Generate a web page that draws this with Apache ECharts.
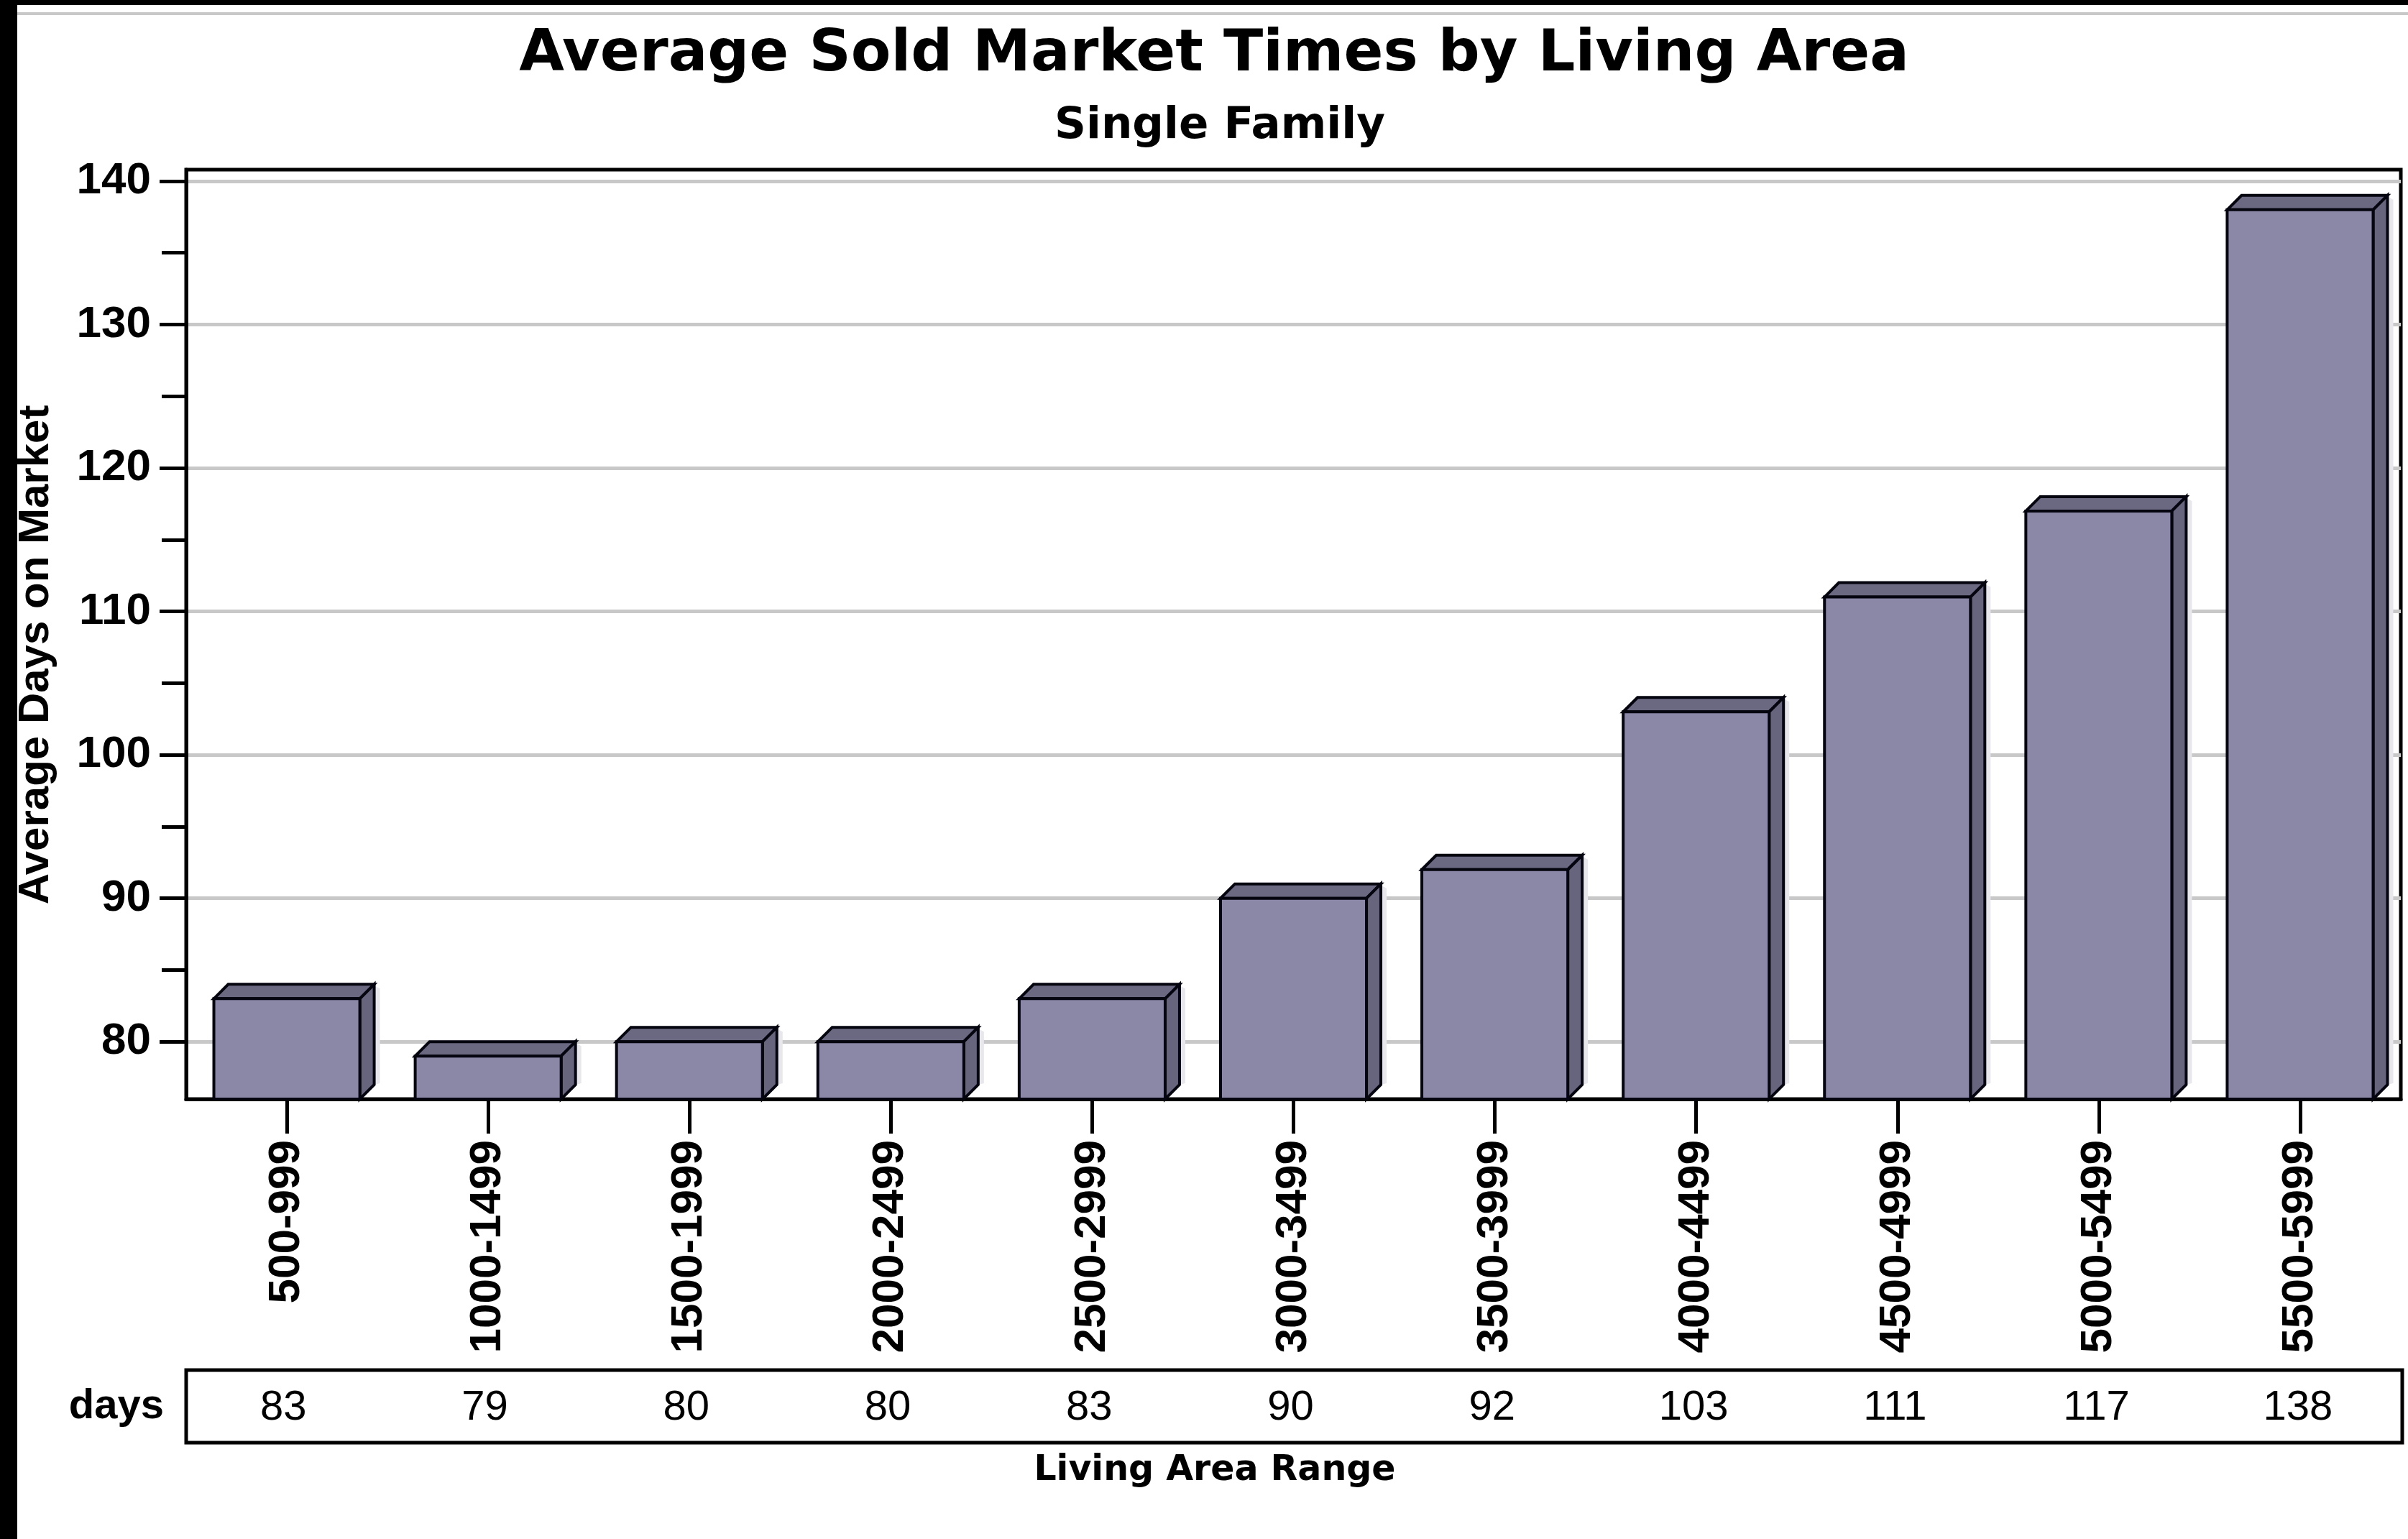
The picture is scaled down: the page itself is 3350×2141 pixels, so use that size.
<!DOCTYPE html>
<html>
<head>
<meta charset="utf-8">
<script src="https://cdn.jsdelivr.net/npm/echarts@6/dist/echarts.min.js"></script>
<style>
  html, body { margin: 0; padding: 0; background: #ffffff; }
  #chart { width: 3350px; height: 2141px; }
</style>
</head>
<body>
<div id="chart"></div>
<script>
// Living-area buckets and the average days on market for each
const categories = ['500-999', '1000-1499', '1500-1999', '2000-2499', '2500-2999', '3000-3499',
                    '3500-3999', '4000-4499', '4500-4999', '5000-5499', '5500-5999'];
const days = [83, 79, 80, 80, 83, 90, 92, 103, 111, 117, 138];

// Value-axis tick marks (labelled majors, unlabelled minors)
const majorTicks = [80, 90, 100, 110, 120, 130, 140];
const minorTicks = [85, 95, 105, 115, 125, 135];
const yMin = 76;
const yMax = 140.8;

const titleText = 'Average Sold Market Times by Living Area';
const subtitleText = 'Single Family';
const yAxisTitle = 'Average Days on Market';
const xAxisTitle = 'Living Area Range';
const tableRowLabel = 'days';

// Styling
const FRONT = '#8a87a7';
const TOP = '#6b6981';
const SIDE = '#67657d';
const OUTLINE = '#05050f';
const DEPTH = 20;
const BAR_RATIO = 0.725;
const LABEL_FONT = 'Liberation Sans';
const TITLE_FONT = 'DejaVu Sans';

const chart = echarts.init(document.getElementById('chart'), null, { renderer: 'canvas' });

// Extruded (pseudo 3-D) bar: front face, top face, side face
function renderBar(params, api) {
  const i = api.value(0);
  const v = api.value(1);
  const topPt = api.coord([i, v]);
  const basePt = api.coord([i, yMin]);
  const w = api.size([1, 0])[0] * BAR_RATIO;
  const l = topPt[0] - w / 2;
  const r = topPt[0] + w / 2;
  const t = topPt[1];
  const b = basePt[1];
  const d = DEPTH;
  const edge = { stroke: OUTLINE, lineWidth: 4, lineJoin: 'miter' };
  return {
    type: 'group',
    children: [
      { type: 'polygon', shape: { points: [[r + d, t - d + 2], [r + d + 8, t - d + 6], [r + d + 8, b - d - 2], [r + d, b - d]] },
        style: { fill: '#e7e7ec' } },
      { type: 'polygon', shape: { points: [[l, t], [l + d, t - d], [r + d, t - d], [r, t]] },
        style: Object.assign({ fill: TOP }, edge) },
      { type: 'polygon', shape: { points: [[r, t], [r + d, t - d], [r + d, b - d], [r, b]] },
        style: Object.assign({ fill: SIDE }, edge) },
      { type: 'rect', shape: { x: l, y: t, width: w, height: b - t },
        style: Object.assign({ fill: FRONT }, edge) }
    ]
  };
}

// Values printed in the table row under the axis
function renderCell(params, api) {
  const i = api.value(0);
  const p = api.coord([i, 0.5]);
  return {
    type: 'text',
    x: p[0] - 5,
    y: p[1] + 2,
    style: {
      text: String(days[i]),
      fill: '#000',
      font: '58px "' + LABEL_FONT + '"',
      align: 'center',
      verticalAlign: 'middle'
    }
  };
}

const axisBlack = { color: '#000', width: 5 };

const option = {
  backgroundColor: '#ffffff',
  animation: false,
  grid: [
    { left: 259, right: 10, top: 236, bottom: 612, show: true, borderColor: '#000', borderWidth: 5,
      backgroundColor: 'transparent', outerBoundsMode: 'none' },
    { left: 259, right: 8, top: 1906, height: 101, show: true, borderColor: '#000', borderWidth: 5,
      backgroundColor: 'transparent', outerBoundsMode: 'none' }
  ],
  xAxis: [
    {
      gridIndex: 0, type: 'category', data: categories, boundaryGap: true,
      axisLine: { show: true, lineStyle: axisBlack },
      axisTick: { show: true, alignWithLabel: true, length: 48, lineStyle: axisBlack },
      axisLabel: { interval: 0, rotate: 90, margin: 57, color: '#000',
                   fontFamily: LABEL_FONT, fontWeight: 'bold', fontSize: 62 },
      splitLine: { show: false }
    },
    {
      gridIndex: 1, type: 'category', data: categories, boundaryGap: true,
      axisLine: { show: false }, axisTick: { show: false }, axisLabel: { show: false },
      splitLine: { show: false }
    }
  ],
  yAxis: [
    {
      gridIndex: 0, type: 'value', min: yMin, max: yMax, position: 'left',
      axisLine: { show: true, lineStyle: axisBlack },
      axisTick: { show: true, length: 37, lineStyle: axisBlack, customValues: majorTicks },
      axisLabel: { customValues: majorTicks, margin: 49, color: '#000',
                   fontFamily: LABEL_FONT, fontWeight: 'bold', fontSize: 62 },
      splitLine: { show: true, lineStyle: { color: '#c8c8c8', width: 5 } }
    },
    {
      gridIndex: 0, type: 'value', min: yMin, max: yMax, position: 'left',
      axisLine: { show: false },
      axisTick: { show: true, length: 34, lineStyle: axisBlack, customValues: minorTicks },
      axisLabel: { show: false },
      splitLine: { show: false }
    },
    {
      gridIndex: 1, type: 'value', min: 0, max: 1, position: 'left',
      axisLine: { show: false }, axisTick: { show: false }, axisLabel: { show: false },
      splitLine: { show: false },
      name: tableRowLabel, nameLocation: 'middle', nameRotate: 0, nameGap: 31,
      nameTextStyle: { color: '#000', fontFamily: LABEL_FONT, fontWeight: 'bold', fontSize: 58 }
    }
  ],
  series: [
    {
      type: 'custom', xAxisIndex: 0, yAxisIndex: 0,
      renderItem: renderBar,
      data: categories.map((c, i) => [i, days[i]]),
      z: 3
    },
    {
      type: 'custom', xAxisIndex: 1, yAxisIndex: 2,
      renderItem: renderCell,
      data: categories.map((c, i) => [i, days[i]]),
      z: 3
    }
  ],
  graphic: [
    { type: 'rect', shape: { x: 0, y: 0, width: 3350, height: 7 }, style: { fill: '#000' }, z: 10 },
    { type: 'rect', shape: { x: 0, y: 17, width: 3350, height: 4 }, style: { fill: '#c8c8c8' }, z: 9 },
    { type: 'rect', shape: { x: 0, y: 0, width: 24, height: 2141 }, style: { fill: '#000' }, z: 10 },
    { type: 'text', x: 1689, y: 77,
      style: { text: titleText, fill: '#000', font: 'bold 81px "' + TITLE_FONT + '"',
               align: 'center', verticalAlign: 'middle' } },
    { type: 'text', x: 1697, y: 176,
      style: { text: subtitleText, fill: '#000', font: 'bold 61px "' + TITLE_FONT + '"',
               align: 'center', verticalAlign: 'middle' } },
    { type: 'text', x: 50, y: 911, rotation: Math.PI / 2,
      style: { text: yAxisTitle, fill: '#000', font: 'bold 60px "' + LABEL_FONT + '"',
               align: 'center', verticalAlign: 'middle' } },
    { type: 'text', x: 1690, y: 2046,
      style: { text: xAxisTitle, fill: '#000', font: 'bold 49px "' + TITLE_FONT + '"',
               align: 'center', verticalAlign: 'middle' } }
  ]
};

chart.setOption(option);
</script>
</body>
</html>
